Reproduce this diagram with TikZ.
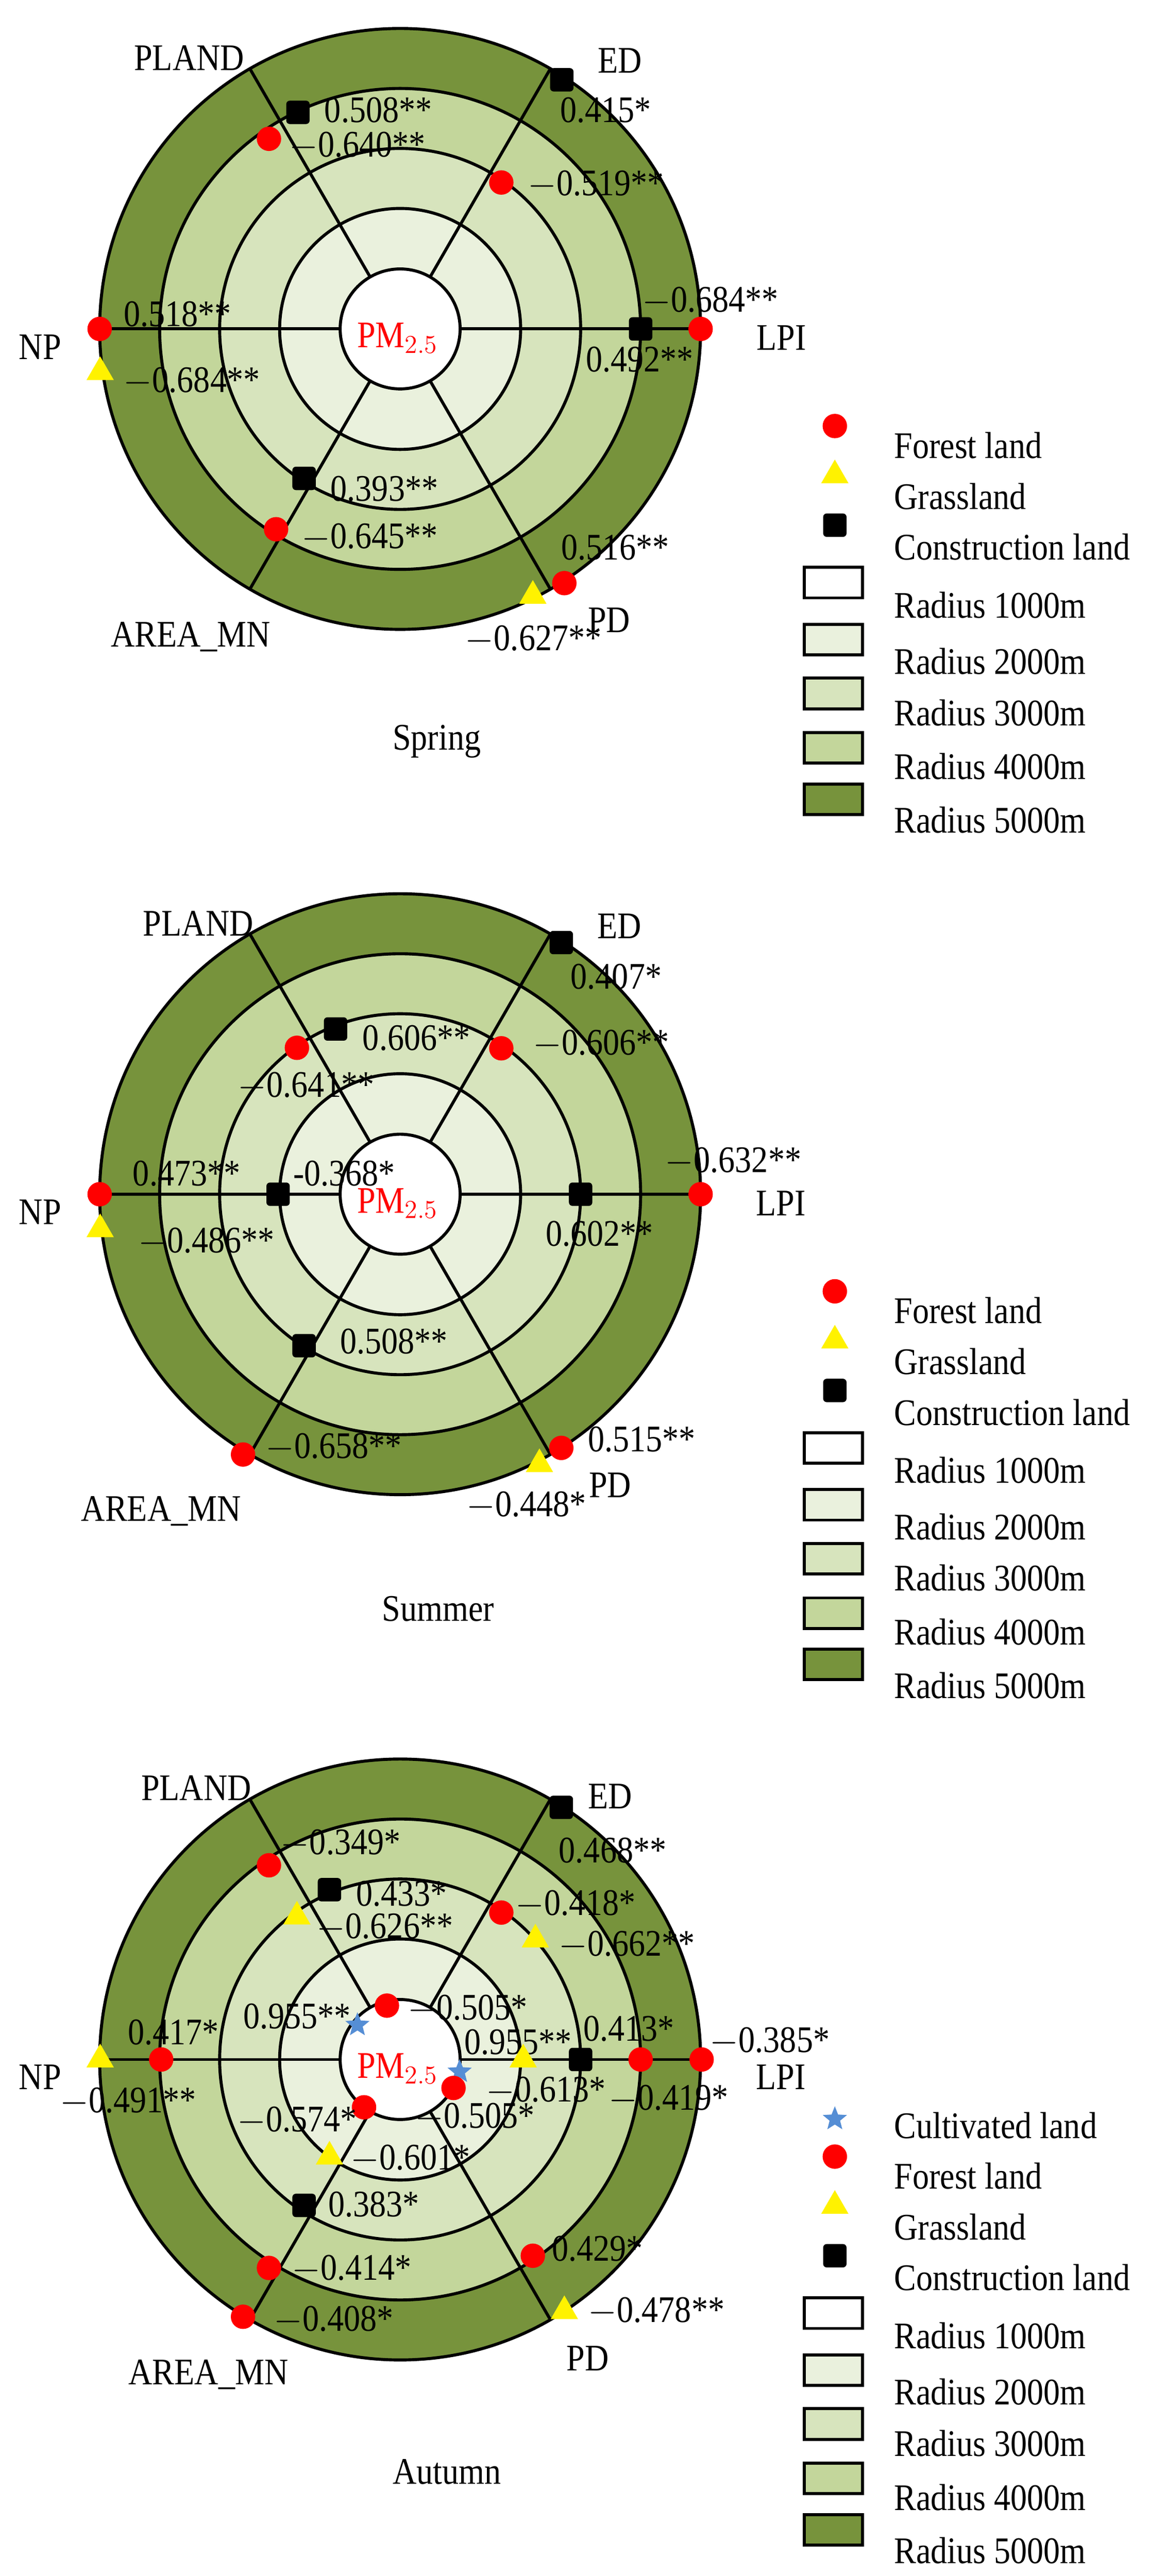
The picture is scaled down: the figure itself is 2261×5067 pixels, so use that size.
\documentclass[tikz,border=0pt]{standalone}
\usepackage{fontspec}
\setmainfont{Liberation Serif}[FakeStretch=0.88]
\usetikzlibrary{shapes.geometric}
\definecolor{rA}{HTML}{FFFFFF}
\definecolor{rB}{HTML}{EAF1DD}
\definecolor{rC}{HTML}{D7E4BD}
\definecolor{rD}{HTML}{C3D69B}
\definecolor{rE}{HTML}{77933C}
\definecolor{stb}{HTML}{558ED5}
\tikzset{
 lw/.style={line width=1.7pt},
 fl/.style={circle,fill=red,inner sep=0,minimum size=0.48cm},
 gl/.style={regular polygon,regular polygon sides=3,fill=yellow,inner sep=0,minimum size=0.62cm},
 cl/.style={rectangle,rounded corners=2pt,fill=black,inner sep=0,minimum size=0.46cm},
 kl/.style={star,star points=5,star point ratio=2.3,fill=stb,inner sep=0,minimum size=0.5cm},
 lab/.style={font=\fontsize{21}{24}\selectfont,inner sep=0},
 lbox/.style={draw,lw,minimum width=1.14cm,minimum height=0.6cm,inner sep=0},
}
\newcommand\drawrings{%
 \fill[rE] (0,0) circle[radius=591];
 \fill[rD] (0,0) circle[radius=473];
 \fill[rC] (0,0) circle[radius=355];
 \fill[rB] (0,0) circle[radius=237];
 \fill[rA] (0,0) circle[radius=118];
 \foreach \r in {118,237,355,473,591} \draw[lw] (0,0) circle[radius=\r];
 \foreach \a in {0,60,120,180,240,300} \draw[lw] (\a:118) -- (\a:591);
 \node[lab,text=red] (pm) at (-5,18) {PM$_{2.5}$};
}
\newcommand\legendrows{%
 \node[fl] (lf) at (855,191) {};
 \node[gl] (lg) at (855,288) {};
 \node[cl] (lc) at (855,386) {};
 \node[lab,anchor=west] (tf) at (971,229) {Forest land};
 \node[lab,anchor=west] (tg) at (971,329) {Grassland};
 \node[lab,anchor=west] (tc) at (971,429) {Construction land};
 \node[lbox,fill=rA] (b1) at (852,499) {};
 \node[lbox,fill=rB] (b2) at (852,611) {};
 \node[lbox,fill=rC] (b3) at (852,717) {};
 \node[lbox,fill=rD] (b4) at (852,824) {};
 \node[lbox,fill=rE] (b5) at (852,925) {};
 \node[lab,anchor=west] (t1) at (971,543) {Radius 1000m};
 \node[lab,anchor=west] (t2) at (971,654) {Radius 2000m};
 \node[lab,anchor=west] (t3) at (971,755) {Radius 3000m};
 \node[lab,anchor=west] (t4) at (971,861) {Radius 4000m};
 \node[lab,anchor=west] (t5) at (971,966) {Radius 5000m};
}
\newcommand\axislabels[6]{%
 \node[lab] (pl) at (#1) {PLAND};
 \node[lab] (ed) at (#2) {ED};
 \node[lab] (np) at (#3) {NP};
 \node[lab] (lpi) at (#4) {LPI};
 \node[lab] (am) at (#5) {AREA\_MN};
 \node[lab] (pd) at (#6) {PD};
}
\begin{document}
\begin{tikzpicture}[x=0.01cm,y=-0.01cm]
\useasboundingbox[fill=white] (0,0) rectangle (2261,5067);
% ---------------- Spring
\begin{scope}[shift={(787,647)}]
\drawrings
\axislabels{-415,-533}{432,-528}{-708,36}{750,17}{-412,606}{411,573}
\node[lab] (ts) at (72,812) {Spring};
\node[cl] (s1) at (-201,-426) {};
\node[fl] (s2) at (-258,-374) {};
\node[lab] at (-43,-430) {0.508**};
\node[lab] at (-84,-360) {$-$0.640**};
\node[cl] (s3) at (318,-490) {};
\node[lab] at (404,-430) {0.415*};
\node[fl] (s4) at (199,-288) {};
\node[lab] at (385,-284) {$-$0.519**};
\node[fl] (s5) at (591,0) {};
\node[cl] (s6) at (473,0) {};
\node[lab] at (610,-55) {$-$0.684**};
\node[lab] at (471,60) {0.492**};
\node[fl] (s7) at (-591,0) {};
\node[gl] (s8) at (-590,85) {};
\node[lab] at (-438,-29) {0.518**};
\node[lab] at (-410,103) {$-$0.684**};
\node[cl] (s9) at (-189,294) {};
\node[lab] at (-31,314) {0.393**};
\node[fl] (s10) at (-244,394) {};
\node[lab] at (-60,410) {$-$0.645**};
\node[fl] (s11) at (323,500) {};
\node[lab] at (423,430) {0.516**};
\node[gl] (s12) at (261,525) {};
\node[lab] at (262,611) {$-$0.627**};
\legendrows
\end{scope}
% ---------------- Summer
\begin{scope}[shift={(787,2349)}]
\drawrings
\axislabels{-397,-532}{431,-527}{-708,35}{749,18}{-470,623}{413,572}
\node[lab] (tm) at (75,816) {Summer};
\node[cl] (m1) at (317,-495) {};
\node[lab] at (425,-428) {0.407*};
\node[cl] (m2) at (-127,-325) {};
\node[fl] (m3) at (-203,-288) {};
\node[lab] at (32,-307) {0.606**};
\node[lab] at (-185,-213) {$-$0.641**};
\node[fl] (m4) at (199,-287) {};
\node[lab] at (395,-296) {$-$0.606**};
\node[fl] (m5) at (591,0) {};
\node[lab] at (655,-65) {$-$0.632**};
\node[cl] (m6) at (355,0) {};
\node[lab] at (392,78) {0.602**};
\node[fl] (m7) at (-591,0) {};
\node[gl] (m8) at (-590,69) {};
\node[lab] at (-420,-41) {0.473**};
\node[lab] at (-381,94) {$-$0.486**};
\node[cl] (m9) at (-240,0) {};
\node[lab] at (-110,-41) {-0.368*};
\node[cl] (m10) at (-189,298) {};
\node[lab] at (-12,290) {0.508**};
\node[fl] (m11) at (-309,512) {};
\node[lab] at (-131,498) {$-$0.658**};
\node[fl] (m12) at (317,499) {};
\node[lab] at (475,482) {0.515**};
\node[gl] (m13) at (274,531) {};
\node[lab] at (248,612) {$-$0.448*};
\legendrows
\end{scope}
% ---------------- Autumn
\begin{scope}[shift={(787,4051)}]
\drawrings
\axislabels{-401,-534}{413,-518}{-708,35}{749,35}{-377,620}{369,588}
\node[lab] (ta) at (92,811) {Autumn};
\node[fl] (a1) at (-258,-382) {};
\node[lab] at (-117,-425) {$-$0.349*};
\node[cl] (a2) at (-139,-334) {};
\node[lab] at (3,-326) {0.433*};
\node[gl] (a3) at (-203,-281) {};
\node[lab] at (-30,-260) {$-$0.626**};
\node[cl] (a4) at (317,-496) {};
\node[lab] at (418,-411) {0.468**};
\node[fl] (a5) at (199,-289) {};
\node[lab] at (345,-305) {$-$0.418*};
\node[gl] (a6) at (266,-236) {};
\node[lab] at (446,-225) {$-$0.662**};
\node[lab] at (-203,-85) {0.955**};
\node[kl] (a7) at (-84,-68) {};
\node[fl] (a8) at (-26,-106) {};
\node[lab] at (133,-100) {$-$0.505*};
\node[lab] at (232,-34) {0.955**};
\node[kl] (a9) at (117,24) {};
\node[fl] (a10) at (105,56) {};
\node[lab] at (147,113) {$-$0.505*};
\node[fl] (a11) at (-71,94) {};
\node[lab] at (-203,120) {$-$0.574*};
\node[gl] (a12) at (-139,191) {};
\node[lab] at (20,195) {$-$0.601*};
\node[gl] (a13) at (242,0) {};
\node[lab] at (287,62) {$-$0.613*};
\node[cl] (a14) at (355,0) {};
\node[lab] at (450,-61) {0.413*};
\node[fl] (a15) at (473,0) {};
\node[lab] at (528,78) {$-$0.419*};
\node[fl] (a16) at (593,0) {};
\node[lab] at (727,-36) {$-$0.385*};
\node[gl] (a17) at (-590,0) {};
\node[lab] at (-535,83) {$-$0.491**};
\node[fl] (a18) at (-470,0) {};
\node[lab] at (-446,-53) {0.417*};
\node[cl] (a19) at (-189,287) {};
\node[lab] at (-52,285) {0.383*};
\node[fl] (a20) at (-258,410) {};
\node[lab] at (-95,412) {$-$0.414*};
\node[fl] (a21) at (-309,506) {};
\node[lab] at (-131,513) {$-$0.408*};
\node[fl] (a22) at (261,386) {};
\node[lab] at (388,372) {0.429*};
\node[gl] (a23) at (323,495) {};
\node[lab] at (504,495) {$-$0.478**};
\node[kl] (lk) at (855,117) {};
\node[lab,anchor=west] (tk) at (971,130) {Cultivated land};
\legendrows
\end{scope}
\end{tikzpicture}
\end{document}
